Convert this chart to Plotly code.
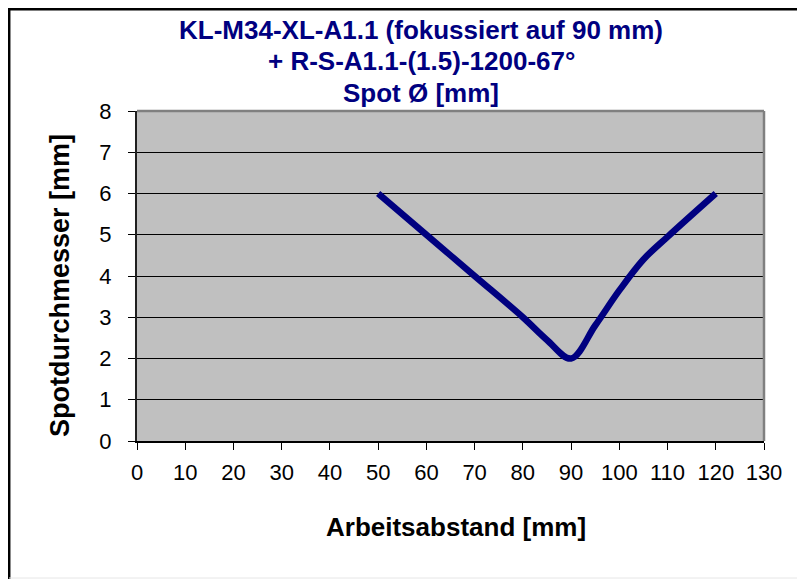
import plotly.graph_objects as go

arbeitsabstand = [50, 60, 70, 80, 85, 90, 95, 100, 105, 110, 120]
spot_durchmesser = [6.0, 5.0, 4.0, 3.0, 2.45, 2.0, 2.8, 3.65, 4.4, 4.95, 6.0]

x_ticks = list(range(0, 131, 10))
y_ticks = list(range(0, 9, 1))

title_lines = ["KL-M34-XL-A1.1 (fokussiert auf 90 mm)", "+ R-S-A1.1-(1.5)-1200-67°", "Spot Ø [mm]"]
x_title = "Arbeitsabstand [mm]"
y_title = "Spotdurchmesser [mm]"

FONT = "Liberation Sans, Arial, sans-serif"
OFF = 8  # page body margin
W, H = 797, 571
L, R, T, B = 129, 41, 103, 138
PW, PH = W - L - R, H - T - B


def px(x):  # page pixel -> paper
    return (x - OFF - L) / PW


def py(y):
    return (H - B - (y - OFF)) / PH


fig = go.Figure()
fig.add_trace(go.Scatter(
    x=arbeitsabstand, y=spot_durchmesser, mode="lines",
    line=dict(color="#000080", width=6.5, shape="spline", smoothing=1.0),
    hoverinfo="x+y", showlegend=False,
))

fig.update_layout(
    width=W, height=H,
    margin=dict(l=L, r=R, t=T, b=B),
    paper_bgcolor="white",
    plot_bgcolor="#C0C0C0",
    font=dict(family=FONT, size=22, color="black"),
    showlegend=False,
    xaxis=dict(
        range=[0, 130], tickvals=x_ticks, ticktext=[str(v) for v in x_ticks],
        showgrid=False, zeroline=False, showline=True, linecolor="black", linewidth=2.3,
        ticks="outside", ticklen=7, tickcolor="black", tickwidth=1.2,
        tickfont=dict(family=FONT, size=22), ticklabelstandoff=3, fixedrange=True,
    ),
    yaxis=dict(
        range=[0, 8], tickvals=y_ticks, ticktext=[str(v) for v in y_ticks],
        showgrid=True, gridcolor="black", gridwidth=1.3, zeroline=False,
        showline=True, linecolor="#202020", linewidth=2,
        ticks="outside", ticklen=7, tickcolor="black", tickwidth=1.2,
        tickfont=dict(family=FONT, size=22), ticklabelstandoff=12, fixedrange=True,
    ),
)

# plot area top/right border (gray)
fig.add_shape(type="line", xref="paper", yref="paper", x0=0, x1=1, y0=1, y1=1,
              line=dict(color="#808080", width=2.5))
fig.add_shape(type="line", xref="paper", yref="paper", x0=1, x1=1, y0=0, y1=1,
              line=dict(color="#808080", width=2.5))

# outer chart border (left and top visible)
fig.add_shape(type="line", xref="paper", yref="paper", x0=px(9.2), x1=px(9.2), y0=py(8), y1=py(580),
              line=dict(color="black", width=2.5))
fig.add_shape(type="line", xref="paper", yref="paper", x0=px(8), x1=px(806), y0=py(9.2), y1=py(9.2),
              line=dict(color="black", width=2.5))
fig.add_shape(type="line", xref="paper", yref="paper", x0=px(9), x1=px(806), y0=py(578), y1=py(578),
              line=dict(color="#E6E6E6", width=1))

# title
for txt, yc in zip(title_lines, [30, 61, 93]):
    fig.add_annotation(text=f"<b>{txt}</b>", xref="paper", yref="paper",
                       x=px(421), y=py(yc), xanchor="center", yanchor="middle",
                       showarrow=False, font=dict(family=FONT, size=26, color="#000080"))

# axis titles
fig.add_annotation(text=f"<b>{x_title}</b>", xref="paper", yref="paper",
                   x=px(456), y=py(527), xanchor="center", yanchor="middle",
                   showarrow=False, font=dict(family=FONT, size=26, color="black"))
fig.add_annotation(text=f"<b>{y_title}</b>", xref="paper", yref="paper",
                   x=px(60), y=py(286), xanchor="center", yanchor="middle", textangle=-90,
                   showarrow=False, font=dict(family=FONT, size=27, color="black"))

fig.write_html("out.html")
